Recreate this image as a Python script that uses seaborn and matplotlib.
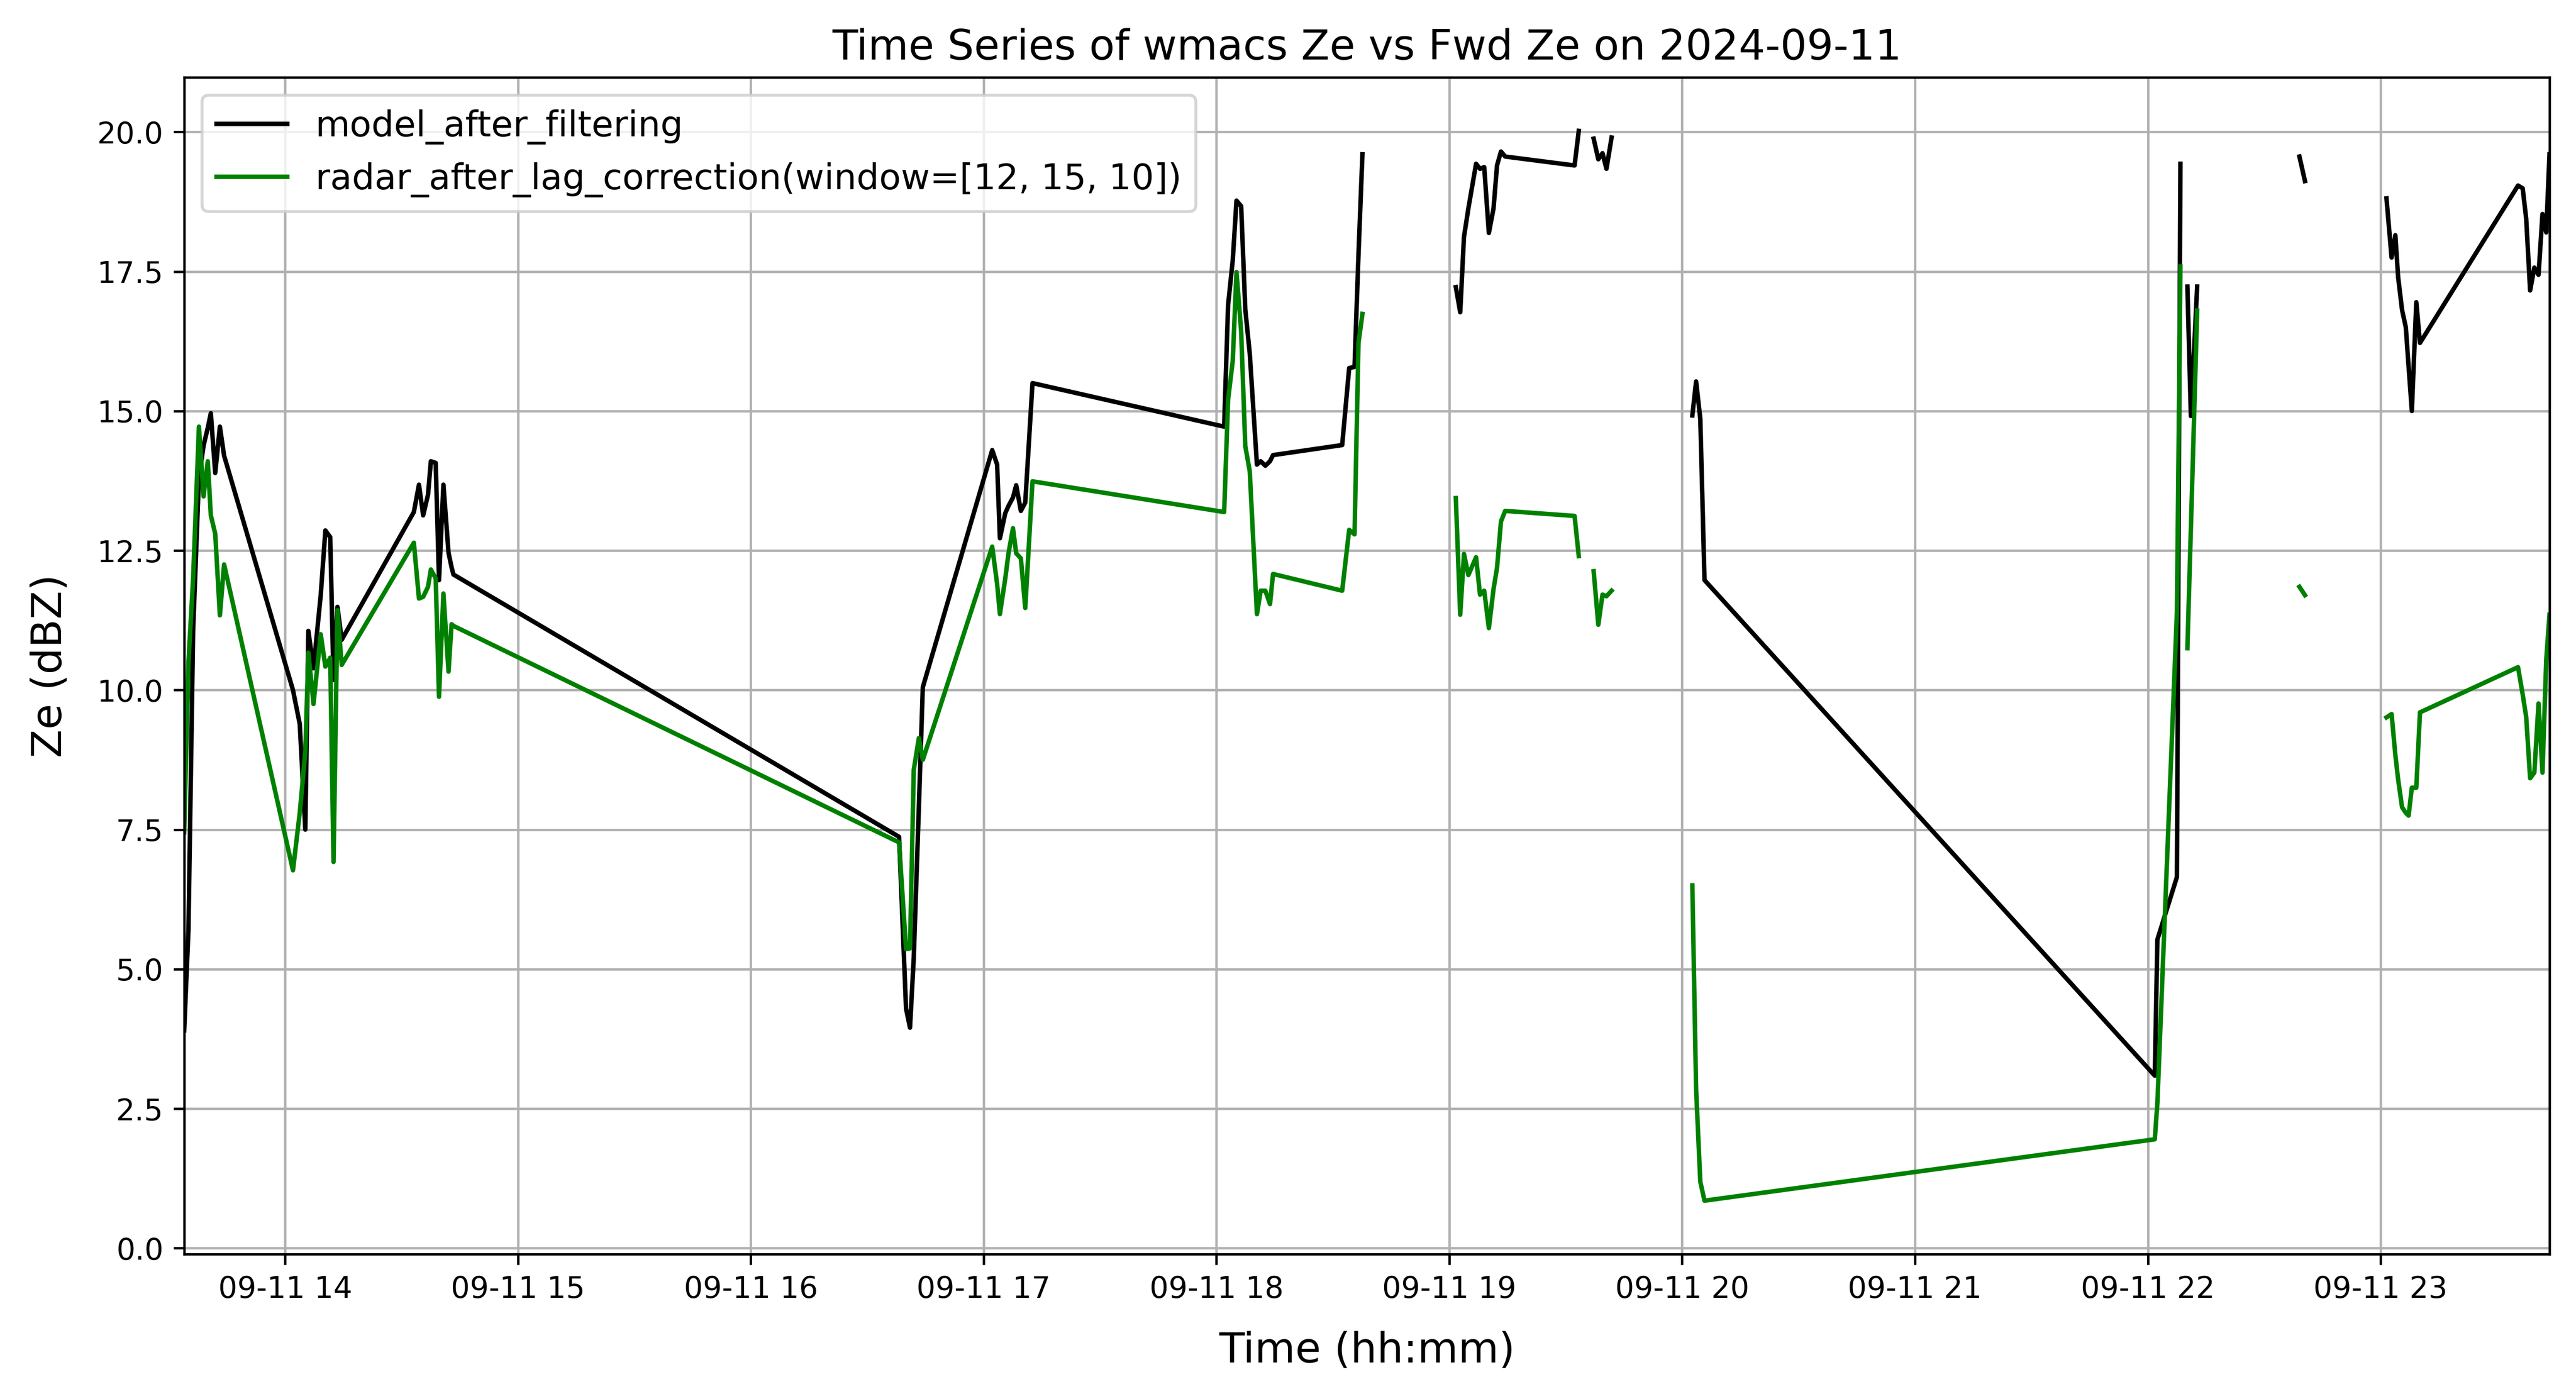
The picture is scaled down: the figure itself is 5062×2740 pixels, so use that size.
import numpy as np
import pandas as pd
import matplotlib
matplotlib.use("Agg")
import matplotlib.pyplot as plt
import matplotlib.dates as mdates
import seaborn as sns

nan = np.nan
day = "2024-09-11"

# sample times (hh:mm:ss); rows with nan values mark gaps in the record
times = [
    "13:34:00", "13:35:06", "13:36:18", "13:37:48", "13:39:00", "13:40:05", "13:40:52",
    "13:42:00", "13:43:12", "13:44:17",
    "14:02:02", "14:03:47", "14:05:13", "14:06:00", "14:07:19", "14:09:11", "14:10:23",
    "14:11:38", "14:12:29", "14:13:30", "14:14:35",
    "14:33:11", "14:34:30", "14:35:35", "14:36:50", "14:37:34", "14:38:49", "14:39:40",
    "14:40:48", "14:42:07", "14:42:54", "14:43:23",
    "16:38:13", "16:40:01", "16:41:02", "16:42:00", "16:43:19", "16:44:20",
    "17:02:13", "17:03:29", "17:04:12", "17:05:35", "17:06:25", "17:07:34", "17:08:24",
    "17:09:36", "17:10:44", "17:12:36",
    "18:01:59", "18:03:00", "18:04:12", "18:05:10", "18:06:22", "18:07:26", "18:08:35",
    "18:10:26", "18:11:24", "18:12:36", "18:13:48", "18:14:35",
    "18:32:24", "18:34:12", "18:35:35", "18:36:36", "18:37:37",
    "18:50:00",
    "19:01:41", "19:02:49", "19:03:47", "19:04:55", "19:06:54", "19:07:55", "19:09:00",
    "19:10:12", "19:11:24", "19:12:18", "19:13:19", "19:14:24",
    "19:32:17", "19:33:22",
    "19:35:00",
    "19:37:12", "19:38:24", "19:39:29", "19:40:30", "19:41:49",
    "19:50:00",
    "20:02:38", "20:03:36", "20:04:41", "20:05:46",
    "22:01:48", "22:02:28", "22:07:30", "22:08:24",
    "22:09:20",
    "22:10:12", "22:11:06", "22:12:43",
    "22:25:00",
    "22:39:04", "22:40:30",
    "22:50:00",
    "23:01:30", "23:02:49", "23:03:47", "23:04:30", "23:05:31", "23:06:29", "23:07:12",
    "23:08:02", "23:09:11", "23:10:08",
    "23:35:24", "23:36:36", "23:37:30", "23:38:31", "23:39:36", "23:40:41", "23:41:42",
    "23:42:40", "23:43:30",
]

model_ze = [
    3.9, 5.7, 11.06, 13.8, 14.38, 14.7, 14.96, 13.89, 14.72, 14.2,
    10.0, 9.39, 7.5, 11.06, 10.39, 11.7, 12.86, 12.74, 10.18, 11.49, 10.9,
    13.19, 13.68, 13.13, 13.5, 14.1, 14.07, 11.97, 13.68, 12.46, 12.2, 12.07,
    7.37, 4.29, 3.95, 5.2, 7.9, 10.05,
    14.3, 14.04, 12.72, 13.17, 13.3, 13.45, 13.67, 13.21, 13.36, 15.5,
    14.72, 16.9, 17.7, 18.77, 18.67, 16.82, 16.03, 14.04, 14.1, 14.02, 14.1, 14.21,
    14.39, 15.77, 15.79, 17.8, 19.6,
    nan,
    17.22, 16.77, 18.12, 18.63, 19.43, 19.34, 19.37, 18.19, 18.63, 19.4, 19.65, 19.56,
    19.4, 20.02,
    nan,
    19.88, 19.51, 19.62, 19.34, 19.9,
    nan,
    14.92, 15.53, 14.86, 11.97,
    3.09, 5.53, 6.65, 19.43,
    nan,
    17.23, 14.91, 17.23,
    nan,
    19.56, 19.12,
    nan,
    18.81, 17.75, 18.15, 17.4, 16.81, 16.5, 15.8, 15.0, 16.95, 16.22,
    19.04, 18.99, 18.45, 17.16, 17.57, 17.44, 18.53, 18.2, 19.6,
]

radar_ze = [
    7.45, 10.5, 12.0, 14.72, 13.47, 14.1, 13.13, 12.8, 11.34, 12.25,
    6.77, 7.8, 8.9, 10.67, 9.75, 11.0, 10.42, 10.58, 6.92, 11.43, 10.45,
    12.64, 11.64, 11.67, 11.85, 12.16, 12.0, 9.88, 11.73, 10.33, 11.18, 11.15,
    7.27, 5.36, 5.37, 8.57, 9.14, 8.75,
    12.57, 11.9, 11.36, 12.0, 12.45, 12.9, 12.45, 12.36, 11.47, 13.74,
    13.19, 15.2, 15.9, 17.49, 16.43, 14.37, 13.92, 11.36, 11.78, 11.78, 11.54, 12.08,
    11.78, 12.87, 12.79, 16.22, 16.74,
    nan,
    13.44, 11.35, 12.44, 12.06, 12.38, 11.71, 11.78, 11.11, 11.81, 12.19, 13.02, 13.21,
    13.12, 12.4,
    nan,
    12.13, 11.17, 11.71, 11.68, 11.78,
    nan,
    6.5, 2.85, 1.19, 0.85,
    1.95, 2.6, 11.4, 17.59,
    nan,
    10.75, 12.9, 16.8,
    nan,
    11.85, 11.7,
    nan,
    9.51, 9.57, 8.84, 8.4, 7.9, 7.8, 7.75, 8.25, 8.25, 9.6,
    10.41, 9.92, 9.52, 8.42, 8.52, 9.76, 8.52, 10.54, 11.35,
]

model_label = "model_after_filtering"
radar_label = "radar_after_lag_correction(window=[12, 15, 10])"

df = pd.DataFrame({
    "time": pd.to_datetime([f"{day} {t}" for t in times]),
    model_label: model_ze,
    radar_label: radar_ze,
})
# every nan row starts a new piece of line
df["segment"] = df[model_label].isna().cumsum()
long_df = df.melt(id_vars=["time", "segment"], var_name="series", value_name="Ze").dropna()

fig, ax = plt.subplots(figsize=(5062 / 422, 2740 / 422), dpi=422)
sns.lineplot(data=long_df, x="time", y="Ze", hue="series", units="segment",
             estimator=None, palette={model_label: "black", radar_label: "green"},
             hue_order=[model_label, radar_label], linewidth=1.5, ax=ax)

ax.set_xlim(df["time"].min(), df["time"].max())
ax.xaxis.set_major_locator(mdates.HourLocator(interval=1))
ax.xaxis.set_major_formatter(mdates.DateFormatter("%m-%d %H"))
ax.grid(True)
ax.set_title(f"Time Series of wmacs Ze vs Fwd Ze on {day}", fontsize=14)
ax.set_xlabel("Time (hh:mm)", fontsize=14, labelpad=9)
ax.set_ylabel("Ze (dBZ)", fontsize=14, labelpad=9)
sns.move_legend(ax, "upper left", title=None, fontsize=11.9)

fig.subplots_adjust(left=0.0715, right=0.9897, top=0.9445, bottom=0.1003)
fig.savefig("out.png", dpi=422)
